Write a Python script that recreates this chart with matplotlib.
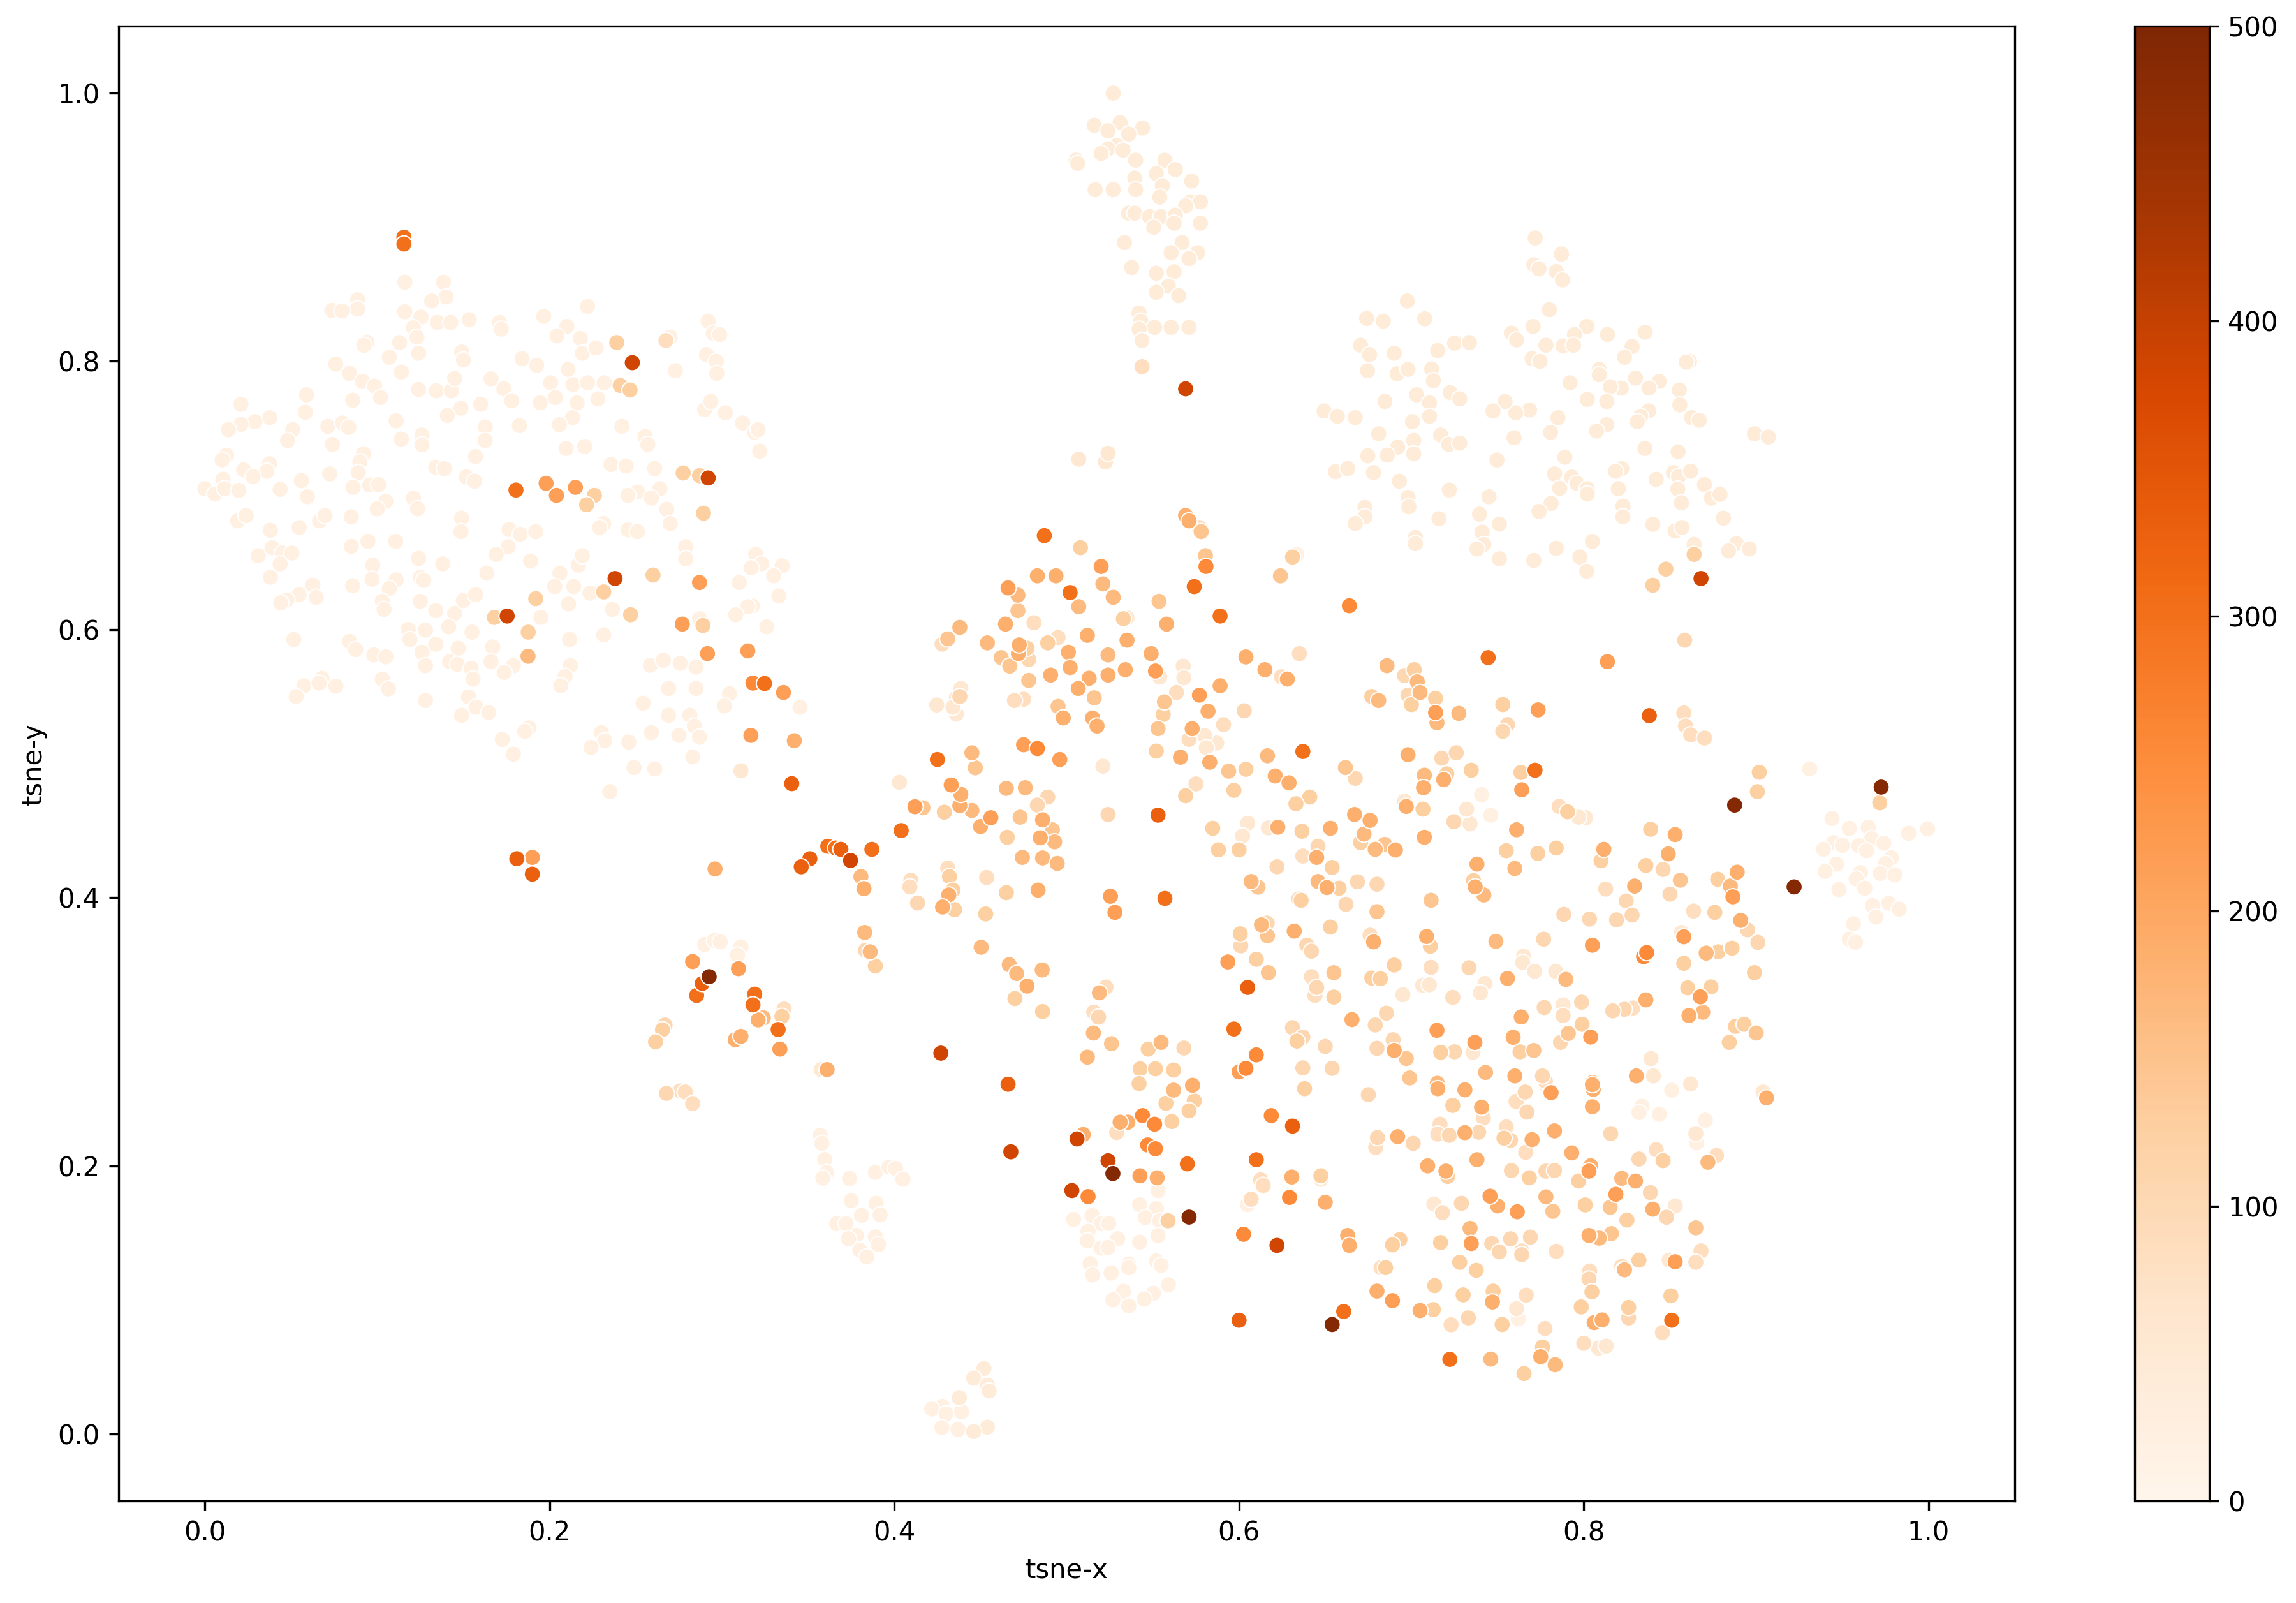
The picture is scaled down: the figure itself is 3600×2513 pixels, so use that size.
import matplotlib

matplotlib.use("Agg")
import matplotlib.pyplot as plt
import numpy as np

# (tsne-x, tsne-y), grouped by the colour value of the mark
v490 = [(.2926,.341),(.5268,.1942),(.571,.1617),(.9725,.4824),(.8875,.469),(.922,.408),(.654,.0816)]
v385 = [(.248,.799),(.292,.713),(.238,.638),(.1754,.61),(.569,.7795),(.868,.638),(.427,.284),(.3746,.4277),
        (.4676,.2104),(.506,.22),(.524,.2037),(.503,.1815),(.622,.1406)]
v330 = [(.3405,.485),(.553,.4615),(.369,.436),(.351,.429),(.346,.423),(.2886,.336),(.605,.333),(.466,.2608),
        (.631,.2296),(.6,.0848),(.838,.5357),(.181,.429),(.19,.4175)]
v300 = [(.1805,.704),(.1155,.8926),(.1155,.8875),(.487,.67),(.502,.6275),(.574,.632),(.589,.61),(.637,.509),
        (.425,.503),(.404,.45),(.387,.436),(.3614,.4383),(.366,.437),(.557,.3994),(.597,.302),(.7445,.579),
        (.7717,.495),(.2853,.327),(.319,.328),(.318,.32),(.3326,.3016),(.57,.2014),(.61,.2045),(.6607,.0913),
        (.851,.0848),(.7223,.0556),(.3247,.5597)]
v255 = [(.483,.5112),(.5808,.647),(.664,.6177),(.544,.2374),(.551,.231),(.547,.2155),(.5515,.2127),(.5124,.177),
        (.8347,.356),(.8365,.359),(.6293,.1764),(.6187,.2374),(.6026,.1489),(.61,.2827),(.318,.56),(.604,.2726)]
v215 = [(.198,.709),(.204,.7),(.215,.706),(.277,.604),(.283,.3523),(.3096,.347),(.2916,.582),(.315,.584),(.3357,.553),
        (.3168,.521),(.287,.635),(.52,.647),(.466,.631),(.5515,.569),(.577,.551),(.6,.27),
        (.412,.4678),(.433,.484),(.475,.514),(.496,.503),(.456,.4596),(.5254,.401),(.528,.389),(.5935,.352),(.7735,.54),
        (.8137,.576),(.764,.4804),(.805,.3645),(.8676,.326),(.7456,.1773),(.7347,.142),(.7614,.1657),(.853,.1284),
        (.8186,.1787),(.781,.2545),(.803,.196),(.858,.3708),(.714,.538),(.7148,.301),(.7368,.292),(.804,.296),
        (.689,.0994),(.5425,.1925),(.3336,.287),(.8865,.4006),(.19,.43)]
v185 = [(.342,.517),(.321,.3088),(.296,.4214),(.569,.685),(.483,.64),(.4938,.64),(.4645,.604),(.438,.4686),
        (.472,.582),(.4725,.5885),(.501,.583),(.512,.5956),(.535,.592),(.534,.57),(.524,.566),(.502,.5716),(.513,.5636),
        (.4907,.566),(.5067,.556),(.498,.534),(.515,.534),(.5176,.528),(.549,.582),(.558,.604),(.571,.681),
        (.589,.558),(.582,.539),(.5728,.526),(.583,.501),(.566,.5047),(.621,.4907),(.629,.4856),(.604,.5795),(.615,.57),
        (.628,.563),(.6225,.4525),(.653,.4517),(.645,.43),(.651,.4075),(.4386,.477),(.45,.453),
        (.486,.458),(.4847,.4446),(.3824,.4067),(.4316,.402),(.428,.393),(.4834,.4056),(.632,.375),(.477,.334),(.3077,.294),
        (.311,.2965),(.361,.2717),(.5096,.2233),(.5355,.2325),(.531,.2325),(.5525,.191),(.573,.26),(.6306,.1916),
        (.65,.1727),(.663,.148),(.664,.1406),(.698,.5066),(.7075,.445),(.707,.482),(.7187,.488),
        (.667,.462),(.676,.4576),(.697,.468),(.6907,.4355),(.761,.4506),(.853,.447),(.849,.4326),(.8116,.436),(.738,.425),
        (.737,.408),(.889,.419),(.8295,.4086),(.891,.383),(.678,.367),(.7088,.371),(.7557,.3397),(.836,.3237),(.7637,.311),
        (.759,.2958),(.6655,.309),(.69,.286),(.76,.267),(.805,.262),(.8305,.267),(.7153,.2575),(.731,.2566),(.7407,.2437),
        (.805,.244),(.8055,.257),(.805,.2605),(.906,.2506),(.692,.2217),(.731,.2247),(.77,.2195),(.783,.226),(.793,.2096),
        (.738,.2045),(.7094,.1999),(.72,.196),(.804,.2),(.83,.1886),(.84,.1676),(.75,.17),(.803,.148),(.68,.1065),(.705,.092),
        (.747,.0984),(.806,.083),(.8106,.085),(.775,.0576),(.861,.312)]
v165 = [(.1875,.58),(.438,.6016),(.454,.59),(.521,.634),(.507,.617),(.527,.624),(.4717,.6256),(.524,.581),
        (.445,.508),(.445,.465),(.465,.4815),(.476,.482),(.4743,.43),(.486,.4296),(.4945,.4255),(.493,.4416),
        (.3806,.4157),(.324,.3103),(.3828,.374),(.386,.3596),(.4504,.363),(.4667,.35),(.471,.3434),(.4858,.346),
        (.519,.329),(.5155,.299),(.512,.281),(.5548,.292),(.562,.2564),(.6165,.5058),(.607,.412),(.6458,.412),(.613,.3797),
        (.6858,.573),(.7034,.561),(.705,.553),(.681,.547),(.7148,.5304),(.7275,.5374),(.7075,.4913),(.6725,.4474),
        (.679,.436),(.76,.4217),(.742,.402),(.885,.4086),(.871,.3586),(.749,.3674),(.7896,.339),(.869,.3145),(.743,.2696),
        (.715,.2615),(.872,.2026),(.822,.1906),(.778,.1768),(.734,.1533),(.809,.146),(.8236,.1224),(.7834,.0516),(.746,.0558)]
v145 = [(.4717,.614),(.5536,.621),(.578,.673),(.5805,.655),(.624,.64),(.431,.593),(.462,.579),(.467,.5727),(.478,.562),
        (.516,.549),(.495,.5426),(.553,.526),(.5567,.546),(.594,.4943),(.4166,.467),(.4917,.4506),(.447,.4968),(.611,.4078),
        (.6165,.3715),(.617,.344),(.526,.291),(.6617,.497),(.6845,.4397),(.856,.413),(.68,.3895),(.7114,.398),
        (.655,.344),(.791,.2987),(.771,.286),(.699,.2655),(.697,.28),(.9,.299),(.782,.166),(.8153,.169),(.816,.1494),
        (.865,.1537),(.823,.1224),(.473,.46)]
v125 = [(.239,.814),(.287,.7147),(.2775,.7167),(.226,.7),(.2215,.693),(.26,.6406),(.2893,.6867),(.168,.609),(.192,.623),
        (.2314,.628),(.1876,.598),(.289,.603),(.241,.782),(.2467,.7786),(.247,.611),(.508,.661),(.5329,.608),(.477,.586),
        (.631,.654),(.489,.59),(.552,.5093),(.556,.5366),(.641,.475),(.633,.47),(.5847,.4517),(.569,.476),(.597,.48),
        (.6,.4356),(.588,.4356),(.604,.4957),(.6365,.4495),(.654,.4225),(.658,.407),(.636,.398),(.429,.4637),(.4655,.445),
        (.432,.4157),(.435,.391),(.434,.4056),(.465,.4037),(.453,.3878),(.3348,.3114),(.2655,.3014),(.2615,.2924),(.389,.349),
        (.47,.3247),(.486,.315),(.5426,.2723),(.5473,.287),(.5515,.2723),(.562,.2714),(.542,.2613),(.574,.2484),(.5576,.2466),
        (.571,.241),(.561,.233),(.5588,.159),(.6475,.1925),(.638,.2575),(.61,.354),(.6007,.373),(.653,.378),(.6546,.344),
        (.655,.3258),(.6336,.293),(.6705,.441),(.7016,.57),(.677,.55),(.7,.544),(.753,.544),(.714,.5486),(.7205,.4923),
        (.7347,.495),(.7635,.4933),(.7067,.466),(.7906,.464),(.8388,.451),(.81,.4275),(.836,.424),(.8777,.4137),(.7733,.433),
        (.784,.437),(.755,.435),(.736,.4127),(.876,.389),(.711,.3637),(.858,.351),(.878,.3596),(.886,.3623),(.899,.344),
        (.69,.3497),(.677,.34),(.682,.3395),(.8603,.3327),(.8738,.3334),(.888,.304),(.893,.3055),(.8844,.292),(.799,.3055),
        (.763,.285),(.717,.2846),(.864,.656),(.8476,.645),(.84,.633),(.9007,.479),(.9018,.4935),(.9717,.4707),
        (.724,.245),(.721,.192),(.7684,.191),(.7537,.2206),(.797,.1886),(.825,.1595),(.846,.2038),(.8008,.1708),(.7169,.1427),
        (.6933,.145),(.689,.141),(.685,.124),(.728,.128),(.7376,.122),(.832,.1296),(.8047,.106),(.8505,.103),(.7135,.1106),
        (.73,.1037),(.7474,.1065),(.7526,.0816),(.7127,.0927),(.7985,.0947),(.826,.0943),(.776,.0648),(.7653,.045)]
v105 = [(.478,.5776),(.438,.55),(.489,.475),(.483,.469),(.524,.462),(.622,.423),(.6347,.399),(.6458,.4383),
        (.4135,.396),(.267,.305),(.3833,.3607),(.5185,.3109),(.568,.2878),(.603,.5393),(.6163,.381),(.601,.364),
        (.6393,.3646),(.642,.36),(.645,.333),(.631,.303),(.637,.296),(.65,.289),(.654,.2726),(.637,.273),(.8585,.592),
        (.6674,.489),(.696,.5656),(.698,.551),(.7557,.529),(.753,.524),(.7246,.4566),(.7176,.504),(.726,.508),
        (.846,.421),(.8246,.3975),(.85,.4026),(.8033,.384),(.819,.3834),(.828,.387),(.7884,.3875),(.662,.395),(.68,.41),
        (.6687,.4118),(.895,.376),(.901,.3666),(.7767,.369),(.777,.318),(.7334,.3477),(.8235,.3167),(.8168,.3155),(.7987,.322),
        (.7865,.292),(.725,.285),(.6855,.3138),(.679,.305),(.6894,.294),(.68,.2876),(.776,.267),(.8156,.224),(.675,.253),
        (.6803,.221),(.701,.2167),(.722,.2227),(.739,.225),(.7575,.219),(.758,.1964),(.778,.196),(.783,.1964),(.729,.172),
        (.832,.205),(.8386,.18),(.848,.1616),(.7466,.142),(.7575,.1455),(.751,.1358),(.764,.1337),(.769,.1468),(.803,.1155),
        (.733,.0865),(.826,.0865),(.766,.255),(.767,.24),(.2678,.254)]
v85 = [(.481,.605),(.577,.676),(.4277,.589),(.495,.594),(.475,.548),(.4697,.547),(.5637,.553),(.571,.518),(.591,.529),
       (.6246,.5647),(.635,.582),(.575,.4848),(.637,.431),(.7857,.468),(.7207,.4923),(.4096,.413),(.409,.408),(.431,.422),
       (.4536,.415),(.336,.3169),(.2758,.2558),(.2787,.255),(.283,.2464),(.5228,.3333),(.5157,.3146),(.529,.2248),(.642,.341),
       (.644,.327),(.858,.5377),(.859,.528),(.862,.5214),(.87,.519),(.5437,.796),(.8127,.4064),(.8637,.39),(.676,.372),
       (.7114,.348),(.724,.3256),(.8285,.3177),(.788,.312),(.7777,.263),(.7417,.2356),(.7607,.248),(.7166,.231),(.7153,.2236),
       (.755,.229),(.7663,.21),(.718,.165),(.764,.1365),(.784,.1362),(.6824,.124),(.822,.125),(.868,.1365),(.865,.128),
       (.8034,.1215),(.7666,.1035),(.723,.0814),(.7775,.0786),(.8456,.0756),(.8,.0676),(.6125,.1895),(.614,.1853),(.607,.175),
       (.6793,.2137),(.842,.212),(.877,.2077),(.2675,.8155)]
v55 = [(.535,.6087),(.5676,.5727),(.554,.5645),(.568,.564),(.587,.5153),(.58,.5208),(.581,.5118),(.521,.498),(.605,.4555),
       (.617,.452),(.602,.446),(.403,.486),(.3576,.2717),(.696,.472),(.734,.455),(.801,.4596),(.797,.46),(.8567,.374),
       (.7065,.3346),(.7104,.335),(.695,.3276),(.765,.3564),(.7645,.3516),(.7715,.345),(.7837,.345),(.7427,.336),(.74,.329),
       (.7357,.2846),(.788,.32),(.8404,.267),(.839,.28),(.862,.261),(.7777,.261),(.904,.255),(.865,.224),(.853,.17),(.713,.1715),
       (.8495,.1296),(.761,.0934),(.8085,.064),(.813,.0655),(.6475,.19),(.311,.4946),
       (.4246,.5437),(.436,.549),(.436,.537),(.434,.542),(.4386,.556),(.732,.466),(.507,.727),(.5225,.725),(.524,.7314)]
v40 = [(.7718,.892),(.787,.88),(.771,.872),(.774,.869),(.784,.867),(.7876,.8607),(.6976,.845),(.674,.832),(.6837,.83),(.7077,.8317),
       (.78,.8385),(.7706,.826),(.758,.821),(.761,.816),(.8017,.826),(.7946,.82),(.8137,.82),(.8356,.8217),(.828,.811),(.8236,.803),
       (.8613,.8),(.8594,.7994),(.778,.812),(.788,.8115),(.794,.812),(.77,.802),(.7746,.8),(.6705,.812),(.6757,.805),(.69,.806),
       (.7152,.808),(.725,.8136),(.7336,.814),(.6745,.793),(.6917,.7907),(.698,.794),(.7117,.7943),(.7127,.7856),(.809,.794),
       (.809,.79),(.792,.784),(.83,.7875),(.8437,.785),(.8378,.78),(.8217,.78),(.8154,.781),(.8554,.7786),(.802,.7716),(.8133,.77),
       (.8557,.7675),(.8377,.763),(.833,.759),(.831,.755),(.8625,.758),(.867,.756),(.899,.746),(.907,.7435),(.8133,.7527),(.8074,.748),
       (.785,.758),(.7807,.747),(.7595,.743),(.7685,.7637),(.7605,.7616),(.7543,.77),(.7473,.763),(.7225,.7767),(.728,.772),(.703,.775),
       (.7105,.769),(.6846,.77),(.7105,.759),(.7006,.755),(.6493,.763),(.657,.759),(.6674,.758),(.681,.746),(.7013,.741),(.692,.736),
       (.717,.745),(.7216,.738),(.728,.739),(.686,.73),(.6747,.7295),(.7013,.731),(.656,.7177),(.663,.72),(.678,.717),(.693,.7106),
       (.7496,.7264),(.789,.7285),(.8355,.735),(.8547,.7325),(.783,.716),(.793,.7136),(.796,.709),(.802,.705),(.802,.701),(.786,.7053),
       (.822,.72),(.8184,.718),(.82,.705),(.842,.712),(.852,.717),(.855,.714),(.862,.718),(.87,.708),(.8545,.7047),(.8566,.6945),(.874,.698),
       (.879,.7007),(.722,.704),(.698,.6985),(.6985,.6915),(.745,.699),(.673,.691),(.673,.684),(.6674,.679),(.716,.6826),(.7395,.686),
       (.751,.6786),(.781,.694),(.774,.688),(.8227,.692),(.8227,.684),(.84,.6784),(.853,.6735),(.857,.676),(.881,.683),(.741,.6726),(.742,.6633),
       (.738,.66),(.7023,.6686),(.7023,.664),(.751,.6527),(.771,.6515),(.784,.6605),(.7977,.654),(.805,.6656),(.8017,.6434),(.864,.6635),
       (.8886,.664),(.884,.6586),(.896,.6601),(.527,1.0),(.516,.976),(.531,.978),(.524,.972),(.544,.974),(.536,.9695),(.529,.961),(.524,.9585),
       (.5327,.9575),(.5055,.95),(.5064,.9476),(.52,.955),(.54,.95),(.557,.95),(.563,.943),(.552,.94),(.5555,.931),(.5395,.9367),(.5165,.928),
       (.527,.928),(.54,.928),(.5725,.9345),(.554,.9225),(.5717,.919),(.5776,.919),(.569,.916),(.536,.9105),(.5395,.9105),(.548,.908),(.5547,.908),
       (.563,.909),(.5505,.9),(.5623,.903),(.5776,.903),(.567,.8886),(.5335,.8886),(.5606,.881),(.576,.881),(.5377,.87),(.552,.8657),(.5623,.8668),
       (.571,.8766),(.559,.856),(.565,.849),(.552,.8515),(.542,.836),(.543,.83),(.551,.8253),(.542,.824),(.5606,.8253),(.571,.8253),(.5437,.8155),
       (.452,.0488),(.446,.0416),(.454,.0364),(.455,.032),(.4377,.027),(.454,.005),(.446,.0018)]
v22 = [(.116,.859),(.1384,.859),(.0886,.846),(.0886,.839),(.0737,.838),(.0796,.8376),(.14,.848),(.1316,.845),(.116,.837),(.1254,.833),(.222,.841),
       (.1966,.8336),(.135,.829),(.1426,.829),(.1534,.831),(.171,.829),(.172,.824),(.21,.826),(.2043,.819),(.2178,.817),(.121,.825),(.123,.818),
       (.113,.814),(.094,.8143),(.0923,.812),(.124,.806),(.107,.803),(.149,.807),(.15,.801),(.184,.802),(.219,.806),(.227,.81),(.27,.818),(.292,.83),
       (.295,.821),(.2987,.82),(.291,.805),(.2967,.8),(.297,.791),(.273,.793),(.076,.798),(.084,.791),(.0915,.785),(.0985,.7815),(.114,.792),(.124,.779),
       (.1344,.778),(.143,.778),(.145,.7872),(.166,.787),(.1735,.7795),(.1925,.797),(.2107,.794),(.2006,.784),(.2136,.7826),(.222,.784),(.2317,.784),
       (.178,.7705),(.1946,.769),(.2034,.773),(.216,.769),(.228,.772),(.102,.773),(.0858,.771),(.059,.775),(.0584,.762),(.021,.768),(.0377,.758),(.029,.755),
       (.021,.753),(.0137,.749),(.051,.749),(.048,.741),(.0714,.7515),(.08,.754),(.0835,.7507),(.111,.7556),(.1486,.765),(.1407,.7596),(.16,.768),(.1627,.751),
       (.1627,.741),(.1825,.752),(.2133,.758),(.2057,.7527),(.242,.7515),(.2554,.744),(.257,.738),(.29,.764),(.2936,.77),(.302,.7616),(.312,.754),(.319,.747),
       (.321,.749),(.322,.733),(.114,.742),(.126,.745),(.126,.7377),(.074,.738),(.092,.731),(.09,.725),(.089,.717),(.0126,.73),(.01,.7265),(.0375,.7236),
       (.036,.718),(.0225,.719),(.028,.714),(.0106,.712),(0,.705),(.0058,.701),(.0115,.705),(.0197,.7037),(.0437,.7045),(.056,.711),(.0595,.699),(.0725,.716),
       (.086,.706),(.0957,.7077),(.1008,.708),(.105,.6956),(.1,.69),(.121,.698),(.1234,.69),(.134,.721),(.139,.72),(.157,.729),(.1517,.7138),(.1565,.7106),
       (.2096,.735),(.2204,.7365),(.2356,.723),(.2444,.722),(.261,.72),(.251,.7025),(.2455,.7),(.264,.705),(.259,.698),(.268,.6896),(.27,.679),(.019,.681),
       (.024,.685),(.038,.674),(.0547,.676),(.0666,.681),(.0697,.685),(.085,.684),(.149,.683),(.1486,.673),(.1766,.6746),(.183,.671),(.192,.673),(.176,.6617),
       (.169,.656),(.189,.651),(.2314,.679),(.229,.676),(.2455,.6743),(.251,.673),(.279,.6617),(.279,.6527),(.039,.661),(.031,.655),(.045,.657),(.0505,.657),
       (.0437,.649),(.038,.639),(.085,.662),(.0946,.6657),(.1107,.6657),(.124,.653),(.138,.649),(.0974,.648),(.097,.6375),(.111,.637),(.125,.639),(.127,.6366),
       (.1636,.642),(.206,.642),(.2167,.648),(.219,.655),(.203,.632),(.214,.632),(.2235,.627),(.3196,.656),(.323,.649),(.317,.646),(.335,.6475),(.33,.64),(.31,.635),
       (.333,.625),(.3176,.6176),(.315,.617),(.308,.611),(.326,.602),(.0626,.633),(.0858,.6326),(.0646,.624),(.0547,.626),(.0476,.622),(.044,.62),(.107,.6305),
       (.103,.621),(.104,.615),(.125,.621),(.134,.614),(.145,.612),(.15,.6216),(.157,.626),(.1415,.602),(.155,.598),(.195,.609),(.211,.619),(.2365,.615),(.2116,.5925),
       (.2314,.596),(.287,.608),(.118,.6),(.128,.5995),(.119,.5925),(.0516,.5925),(.084,.591),(.0875,.585),(.098,.581),(.105,.5796),(.134,.589),(.126,.583),(.147,.586),
       (.167,.587),(.142,.576),(.1466,.574),(.166,.576),(.128,.573),(.1545,.571),(.179,.573),(.1737,.568),(.1556,.563),(.212,.573),(.209,.565),(.2065,.558),(.2585,.5733),
       (.266,.577),(.2758,.5747),(.285,.572),(.269,.556),(.285,.556),(.3044,.552),(.3015,.543),(.3453,.542),(.103,.563),(.1065,.5557),(.068,.5635),(.0575,.558),(.0663,.56),
       (.076,.5577),(.053,.55),(.128,.547),(.153,.5496),(.1574,.542),(.1647,.538),(.149,.536),(.2543,.545),(.269,.536),(.2814,.536),(.284,.528),(.188,.5266),(.1856,.524),
       (.1726,.518),(.179,.507),(.23,.523),(.232,.517),(.224,.512),(.246,.516),(.259,.523),(.275,.521),(.287,.5197),(.283,.505),(.249,.497),(.261,.496),(.235,.479),
       (.29,.365),(.2957,.368),(.299,.367),(.311,.3633),(.309,.3572),(.553,.1815),(.5423,.171),(.552,.168),(.5456,.1614),(.554,.159),(.504,.1599),(.5147,.163),(.52,.1568),
       (.5244,.157),(.5124,.151),(.512,.144),(.5296,.1456),(.52,.1386),(.524,.139),(.5423,.143),(.553,.148),(.5136,.127),(.515,.1185),(.5258,.12),(.536,.1268),(.536,.124),
       (.552,.129),(.5548,.1257),(.533,.1064),(.559,.1113),(.5503,.1049),(.5449,.1006),(.5268,.1),(.536,.0954),(.357,.2227),(.358,.2167),(.3597,.2046),(.3607,.195),(.3585,.1908),
       (.374,.1905),(.389,.195),(.397,.199),(.4007,.198),(.405,.19),(.375,.174),(.3894,.172),(.381,.163),(.3918,.1634),(.3666,.1568),(.372,.1568),(.378,.148),(.3734,.1456),
       (.389,.147),(.3908,.1412),(.38,.137),(.384,.132),(.4278,.0206),(.4217,.0186),(.43,.015),(.439,.0165),(.4276,.0047),(.437,.0033),(.944,.459),(.954,.4516),(.965,.4525),
       (.967,.444),(.974,.4406),(.9595,.4387),(.964,.435),(.9448,.441),(.95,.439),(.939,.436),(.9885,.448),(.9994,.4513),(.9784,.4297),(.975,.4254),(.9466,.425),(.94,.4195),
       (.9605,.4186),(.958,.414),(.972,.418),(.9805,.417),(.963,.407),(.948,.406),(.9675,.394),(.977,.3958),(.983,.3914),(.9694,.3855),(.9564,.3805),(.954,.369),(.9577,.3667),
       (.931,.496),(.7407,.4768),(.746,.4615),(.6335,.656),(.8337,.2444),(.832,.2397),(.8438,.2384),(.851,.2563),(.8617,.2605),(.8705,.234),(.8655,.217),(.762,.0858),(.605,.171)]

value_levels = [22, 40, 55, 85, 105, 125, 145, 165, 185, 215, 255, 300, 330, 385, 490]
groups = [v22, v40, v55, v85, v105, v125, v145, v165, v185, v215, v255, v300, v330, v385, v490]

xs, ys, cs = [], [], []
for level, points in zip(value_levels, groups):
    for x, y in points:
        xs.append(x)
        ys.append(y)
        cs.append(level)

fig = plt.figure(figsize=(12, 8.3767), dpi=300)
ax = fig.add_axes([186 / 3600, 1 - 2353 / 2513, (3159 - 186) / 3600, (2353 - 41) / 2513])
sc = ax.scatter(np.array(xs), np.array(ys), c=cs, cmap="Oranges", vmin=0, vmax=500, s=38, edgecolors="white", linewidths=0.48)
ax.set_xlim(-0.05, 1.05)
ax.set_ylim(-0.05, 1.05)
ax.set_xticks(np.arange(0, 1.01, 0.2))
ax.set_yticks(np.arange(0, 1.01, 0.2))
ax.set_xlabel("tsne-x")
ax.set_ylabel("tsne-y")

cax = fig.add_axes([3347 / 3600, 1 - 2353 / 2513, (3464 - 3347) / 3600, (2353 - 41) / 2513])
fig.colorbar(sc, cax=cax, ticks=[0, 100, 200, 300, 400, 500])

plt.savefig("out.png", dpi=300)
plt.close()
